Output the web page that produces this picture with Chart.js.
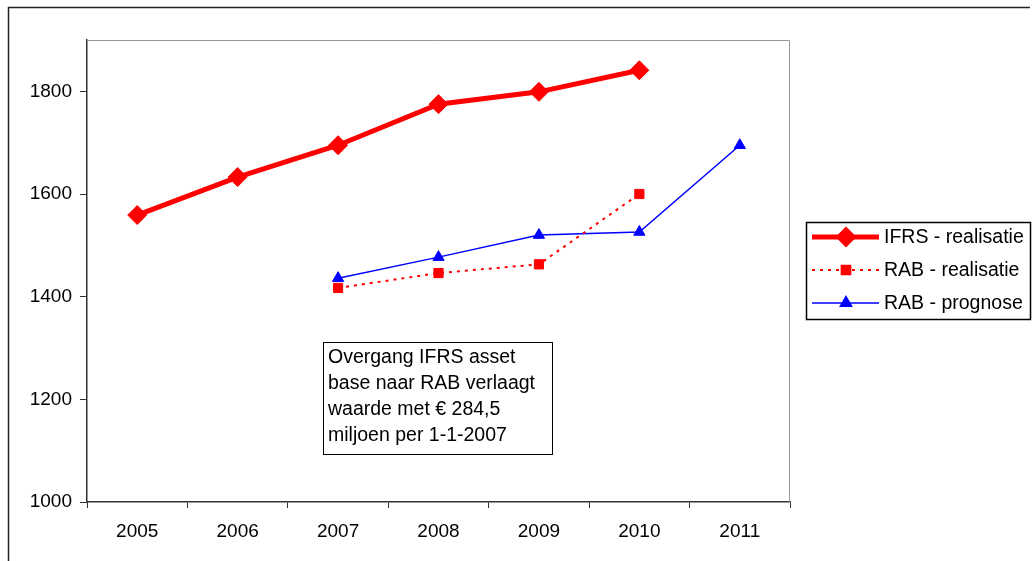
<!DOCTYPE html>
<html>
<head>
<meta charset="utf-8">
<script src="https://cdn.jsdelivr.net/npm/chart.js@4/dist/chart.umd.min.js"></script>
<style>
    html, body { margin: 0; padding: 0; background: #fff; }
    #wrap { width: 1034px; height: 561px; position: relative; }
</style>
</head>
<body>
<div id="wrap"><canvas id="assetChart"></canvas></div>
<script>
// ===== DATA =====
const years = ['2005', '2006', '2007', '2008', '2009', '2010', '2011'];
const ifrsRealisatie = [1559, 1633, 1695, 1775, 1799, 1841, null];
const rabRealisatie = [null, null, 1417, 1446, 1463, 1600, null];
const rabPrognose = [null, null, 1436, 1477, 1520, 1526, 1695];
const yTicks = [1000, 1200, 1400, 1600, 1800];
const noteLines = [
    'Overgang IFRS asset',
    'base naar RAB verlaagt',
    'waarde met \u20AC 284,5',
    'miljoen per 1-1-2007'
];

const FONT = '"Liberation Sans", Arial, sans-serif';

// Frame, plot border, note box and legend
const decorations = {
    id: 'decorations',
    afterDraw(chart) {
        const ctx = chart.ctx;
        const a = chart.chartArea;
        ctx.save();

        // outer frame (right side is cut off in the original)
        ctx.strokeStyle = '#222';
        ctx.lineWidth = 1.5;
        ctx.beginPath();
        ctx.moveTo(8.5, 561);
        ctx.lineTo(8.5, 7.5);
        ctx.lineTo(1030, 7.5);
        ctx.stroke();

        // plot area top / right edge
        ctx.strokeStyle = '#999';
        ctx.lineWidth = 1;
        ctx.beginPath();
        ctx.moveTo(a.left, a.top + 0.5);
        ctx.lineTo(a.right - 0.5, a.top + 0.5);
        ctx.lineTo(a.right - 0.5, a.bottom);
        ctx.stroke();

        // note box
        ctx.strokeStyle = '#000';
        ctx.lineWidth = 1;
        ctx.fillStyle = '#fff';
        ctx.fillRect(323, 342, 229, 112);
        ctx.strokeRect(323.5, 342.5, 229, 112);
        ctx.fillStyle = '#000';
        ctx.font = '19.5px ' + FONT;
        ctx.textBaseline = 'middle';
        ctx.textAlign = 'left';
        noteLines.forEach((line, i) => {
            ctx.fillText(line, 328, 358 + i * 26);
        });

        // legend
        ctx.strokeStyle = '#000';
        ctx.lineWidth = 1.5;
        ctx.strokeRect(806.5, 222.5, 224, 97);
        chart.data.datasets.forEach((ds, i) => {
            const y = 237 + i * 33;
            ctx.save();
            ctx.strokeStyle = ds.borderColor;
            ctx.lineWidth = ds.borderWidth;
            ctx.setLineDash(ds.borderDash || []);
            ctx.beginPath();
            ctx.moveTo(812, y);
            ctx.lineTo(879, y);
            ctx.stroke();
            ctx.restore();
            ctx.fillStyle = ds.pointBackgroundColor;
            ctx.strokeStyle = ds.pointBorderColor;
            Chart.helpers.drawPoint(ctx, {
                pointStyle: ds.pointStyle,
                radius: ds.pointRadius,
                borderWidth: 1
            }, 846, y);
            ctx.fillStyle = '#000';
            ctx.font = '19.5px ' + FONT;
            ctx.fillText(ds.label, 884, y + 1);
        });

        ctx.restore();
    }
};

function makeChart() {
    const ctx = document.getElementById('assetChart');
    Chart.defaults.font.family = FONT;
    Chart.defaults.color = '#000';

    new Chart(ctx, {
        type: 'line',
        data: {
            labels: years,
            datasets: [{
                label: 'IFRS - realisatie',
                data: ifrsRealisatie,
                borderColor: '#ff0000',
                backgroundColor: '#ff0000',
                pointBackgroundColor: '#ff0000',
                pointBorderColor: '#ff0000',
                borderWidth: 5,
                pointStyle: 'rectRot',
                pointRadius: 9.5,
                pointBorderWidth: 1,
                tension: 0
            }, {
                label: 'RAB - realisatie',
                data: rabRealisatie,
                borderColor: '#ff0000',
                backgroundColor: '#ff0000',
                pointBackgroundColor: '#ff0000',
                pointBorderColor: '#ff0000',
                borderWidth: 2,
                borderDash: [3, 5],
                pointStyle: 'rect',
                pointRadius: 6.5,
                pointBorderWidth: 1,
                tension: 0
            }, {
                label: 'RAB - prognose',
                data: rabPrognose,
                borderColor: '#0000ff',
                backgroundColor: '#0000ff',
                pointBackgroundColor: '#0000ff',
                pointBorderColor: '#0000ff',
                borderWidth: 1.5,
                pointStyle: 'triangle',
                pointRadius: 6.5,
                pointBorderWidth: 1,
                tension: 0
            }]
        },
        options: {
            responsive: true,
            maintainAspectRatio: false,
            animation: false,
            spanGaps: false,
            layout: {
                padding: { left: 0, top: 40, right: 244, bottom: 0 }
            },
            plugins: {
                legend: { display: false },
                tooltip: { enabled: false }
            },
            scales: {
                x: {
                    offset: true,
                    grid: {
                        offset: true,
                        drawOnChartArea: false,
                        drawTicks: true,
                        tickLength: 6,
                        color: '#333'
                    },
                    border: { color: '#333', width: 1.5 },
                    ticks: {
                        font: { size: 19 },
                        padding: 12,
                        maxRotation: 0
                    },
                    afterFit(scale) { scale.height = 59; }
                },
                y: {
                    min: 1000,
                    max: 1900,
                    afterBuildTicks(scale) {
                        scale.ticks = yTicks.map(v => ({ value: v }));
                    },
                    grid: {
                        drawOnChartArea: false,
                        drawTicks: true,
                        tickLength: 7,
                        color: '#333'
                    },
                    border: { color: '#333', width: 1.5 },
                    ticks: {
                        font: { size: 19 },
                        padding: 8,
                        callback: value => String(value)
                    },
                    afterFit(scale) { scale.width = 87; }
                }
            }
        },
        plugins: [decorations]
    });
}

makeChart();
</script>
</body>
</html>
